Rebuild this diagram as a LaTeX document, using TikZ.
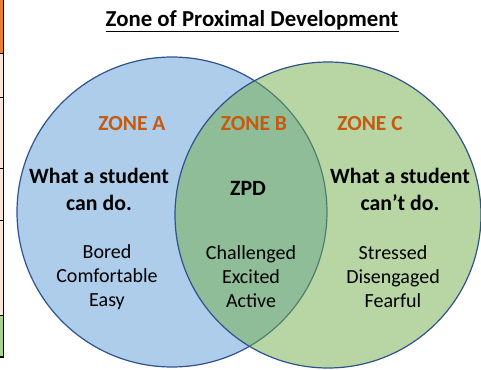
\documentclass[tikz,border=0pt]{standalone}
\usepackage{fontspec}
\setmainfont{Carlito}
\usepackage{xcolor}
\usepackage{tikz}

\definecolor{zoneorange}{HTML}{C55A11}
\definecolor{canblue}{HTML}{5B9BD5}
\definecolor{cantgreen}{HTML}{70AD47}
\definecolor{rimblue}{HTML}{2F528F}
\definecolor{cellorange}{HTML}{ED7D31}
\definecolor{cellbeige}{HTML}{FBE5D6}
\definecolor{cellgreen}{HTML}{A9D18E}

\begin{document}
\begin{tikzpicture}[x=1pt, y=-1pt,
    zonelabel/.style={font=\fontsize{21.5}{25}\selectfont\bfseries, text=zoneorange, inner sep=0pt, anchor=base},
    whatlabel/.style={font=\fontsize{21.8}{27}\selectfont\bfseries, align=center, inner sep=0pt},
    feellabel/.style={font=\fontsize{20}{24}\selectfont, align=center, inner sep=0pt}]
\useasboundingbox (0,0) rectangle (481,369);
% edge of a table cut off at the left
\fill[cellorange] (0,0) rectangle (3,53);
\fill[cellbeige] (0,53) rectangle (3,315);
\fill[cellgreen] (0,315) rectangle (3,357);
\draw[line width=1.2pt] (3.5,0) -- (3.5,357) -- (0,357);
\foreach \y in {53,97,168,220,315}
    \draw[line width=0.8pt] (0,\y) -- (3.5,\y);
% the two circles
\fill[canblue, fill opacity=0.5] (172,212) circle (155);
\draw[rimblue, line width=1.2pt] (172,212) circle (155);
\fill[cantgreen, fill opacity=0.5] (328,215) circle (153);
\draw[rimblue, line width=1.2pt] (328,215) circle (153);
% title
\node[font=\fontsize{22.8}{26}\selectfont\bfseries, inner sep=0pt, anchor=base] (title) at (252,27)
    {Zone of Proximal Development};
\draw[line width=1.4pt] ([yshift=-4.5pt]title.base west) -- ([yshift=-4.5pt]title.base east);
% zone headings
\node[zonelabel] (zoneA) at (132,130) {ZONE A};
\node[zonelabel] (zoneB) at (254,130) {ZONE B};
\node[zonelabel] (zoneC) at (370,130) {ZONE C};
% what the student can and can't do
\node[whatlabel] (cando) at (99,189) {What a student\\can do.};
\node[whatlabel] (zpd) at (248,188) {ZPD};
\node[whatlabel] (cantdo) at (400,189) {What a student\\can’t do.};
% feelings
\node[feellabel] (feelA) at (107,277) {Bored\\Comfortable\\Easy};
\node[feellabel] (feelB) at (251,277) {Challenged\\Excited\\Active};
\node[feellabel] (feelC) at (393,277) {Stressed\\Disengaged\\Fearful};
\end{tikzpicture}
\end{document}
